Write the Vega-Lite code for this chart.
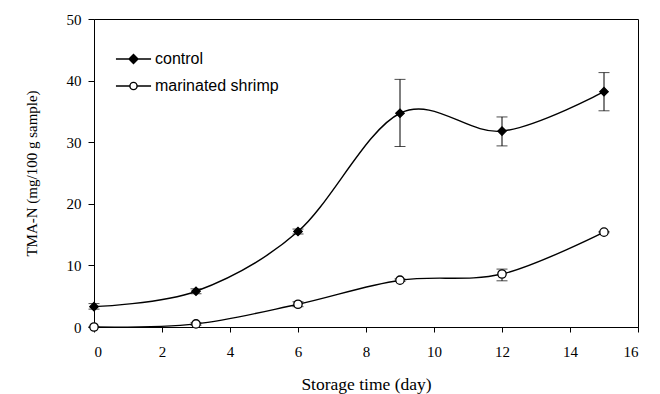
{
  "$schema": "https://vega.github.io/schema/vega-lite/v6.json",
  "width": 544,
  "height": 308,
  "autosize": {"type": "none"},
  "padding": {"left": 94, "top": 19, "right": 22, "bottom": 67},
  "background": "white",
  "config": {
    "view": {"stroke": "black", "strokeWidth": 1},
    "axis": {
      "grid": false,
      "domainColor": "black",
      "domainWidth": 1,
      "tickColor": "black",
      "tickWidth": 1,
      "tickSize": 6,
      "labelColor": "black",
      "labelFont": "Liberation Serif",
      "labelFontSize": 15,
      "titleColor": "black",
      "titleFont": "Liberation Serif",
      "titleFontWeight": "normal"
    }
  },
  "data": {
    "values": [
      {"series": "control", "day": 0, "value": 3.3, "lo": 2.9, "hi": 3.8},
      {"series": "control", "day": 3, "value": 5.8, "lo": 5.4, "hi": 6.2},
      {"series": "control", "day": 6, "value": 15.5, "lo": 15.1, "hi": 15.9},
      {"series": "control", "day": 9, "value": 34.7, "lo": 29.3, "hi": 40.2},
      {"series": "control", "day": 12, "value": 31.8, "lo": 29.4, "hi": 34.1},
      {"series": "control", "day": 15, "value": 38.2, "lo": 35.1, "hi": 41.3},
      {"series": "marinated shrimp", "day": 0, "value": 0, "lo": 0, "hi": 0},
      {"series": "marinated shrimp", "day": 3, "value": 0.5, "lo": 0.3, "hi": 0.7},
      {"series": "marinated shrimp", "day": 6, "value": 3.7, "lo": 3.3, "hi": 4.1},
      {"series": "marinated shrimp", "day": 9, "value": 7.6, "lo": 7.4, "hi": 7.8},
      {"series": "marinated shrimp", "day": 12, "value": 8.6, "lo": 7.5, "hi": 9.4},
      {"series": "marinated shrimp", "day": 15, "value": 15.4, "lo": 15.3, "hi": 15.5}
    ]
  },
  "layer": [
    {
      "mark": {"type": "line", "interpolate": "cardinal", "color": "black", "strokeWidth": 1.4},
      "encoding": {
        "x": {
          "field": "day", "type": "quantitative", "title": "Storage time (day)",
          "scale": {"domain": [0, 16], "nice": false, "zero": false},
          "axis": {"values": [0, 2, 4, 6, 8, 10, 12, 14, 16], "labelPadding": 12, "titleFontSize": 17.5, "titlePadding": 16, "tickSize": 5}
        },
        "y": {
          "field": "value", "type": "quantitative", "title": "TMA-N (mg/100 g sample)",
          "scale": {"domain": [0, 50], "nice": false},
          "axis": {"values": [0, 10, 20, 30, 40, 50], "labelPadding": 7, "titleFontSize": 15, "titlePadding": 27}
        },
        "detail": {"field": "series"}
      }
    },
    {
      "mark": {"type": "rule", "color": "black", "strokeWidth": 1},
      "encoding": {
        "x": {"field": "day", "type": "quantitative", "title": "Storage time (day)"},
        "y": {"field": "lo", "type": "quantitative", "title": "TMA-N (mg/100 g sample)"},
        "y2": {"field": "hi"}
      }
    },
    {
      "mark": {"type": "tick", "orient": "horizontal", "color": "black", "size": 11, "thickness": 1},
      "encoding": {
        "x": {"field": "day", "type": "quantitative", "title": "Storage time (day)"},
        "y": {"field": "lo", "type": "quantitative", "title": "TMA-N (mg/100 g sample)"}
      }
    },
    {
      "mark": {"type": "tick", "orient": "horizontal", "color": "black", "size": 11, "thickness": 1},
      "encoding": {
        "x": {"field": "day", "type": "quantitative", "title": "Storage time (day)"},
        "y": {"field": "hi", "type": "quantitative", "title": "TMA-N (mg/100 g sample)"}
      }
    },
    {
      "mark": {"type": "point", "stroke": "black", "strokeWidth": 1.3, "opacity": 1},
      "encoding": {
        "x": {"field": "day", "type": "quantitative", "title": "Storage time (day)"},
        "y": {"field": "value", "type": "quantitative", "title": "TMA-N (mg/100 g sample)"},
        "shape": {"field": "series", "type": "nominal", "scale": {"domain": ["control", "marinated shrimp"], "range": ["diamond", "circle"]}, "legend": null},
        "fill": {"field": "series", "type": "nominal", "scale": {"domain": ["control", "marinated shrimp"], "range": ["black", "white"]}, "legend": null},
        "size": {"value": 70}
      }
    },
    {
      "transform": [{"filter": "datum.day < 0"}],
      "mark": {"type": "point", "strokeWidth": 1.4, "opacity": 1},
      "encoding": {
        "x": {"field": "day", "type": "quantitative", "title": "Storage time (day)"},
        "y": {"field": "value", "type": "quantitative", "title": "TMA-N (mg/100 g sample)"},
        "shape": {
          "field": "series", "type": "nominal", "title": null,
          "scale": {"domain": ["control", "marinated shrimp"], "range": ["M-3.9,0H3.9M-1,0L0,-1L1,0L0,1Z", "M-3.9,0H-0.8M0.8,0H3.9M-0.8,0A0.8,0.8 0 1,0 0.8,0A0.8,0.8 0 1,0 -0.8,0Z"]},
          "legend": {
            "orient": "none", "legendX": 31.5, "legendY": 32, "padding": 0,
            "symbolSize": 81, "symbolStrokeWidth": 1.4, "symbolOpacity": 1,
            "labelFont": "Liberation Sans", "labelFontSize": 16, "labelColor": "black", "labelOffset": 13.5,
            "rowPadding": 11
          }
        },
        "fill": {
          "field": "series", "type": "nominal", "title": null,
          "scale": {"domain": ["control", "marinated shrimp"], "range": ["black", "white"]}
        },
        "stroke": {
          "field": "series", "type": "nominal", "title": null,
          "scale": {"domain": ["control", "marinated shrimp"], "range": ["black", "black"]}
        },
        "size": {"value": 81}
      }
    }
  ],
  "resolve": {"scale": {"shape": "independent", "fill": "independent", "stroke": "independent"}}
}
